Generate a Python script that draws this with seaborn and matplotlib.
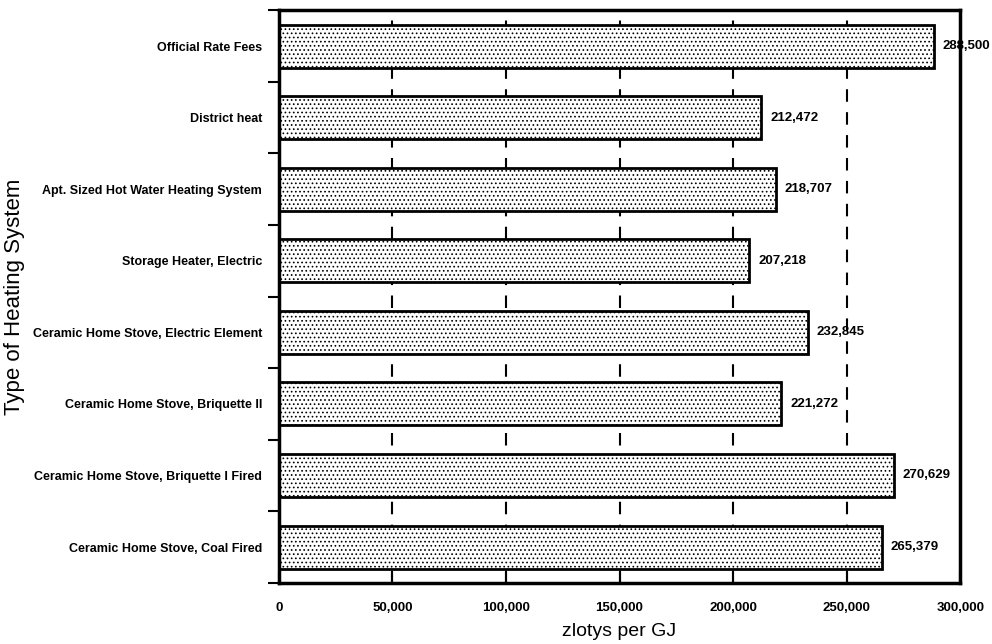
import matplotlib
matplotlib.use("Agg")
import matplotlib.pyplot as plt
import seaborn as sns
import pandas as pd

categories = [
    "Official Rate Fees",
    "District heat",
    "Apt. Sized Hot Water Heating System",
    "Storage Heater, Electric",
    "Ceramic Home Stove, Electric Element",
    "Ceramic Home Stove, Briquette II",
    "Ceramic Home Stove, Briquette I Fired",
    "Ceramic Home Stove, Coal Fired",
]
values = [288500, 212472, 218707, 207218, 232845, 221272, 270629, 265379]
value_labels = ["288,500", "212,472", "218,707", "207,218", "232,845", "221,272", "270,629", "265,379"]
x_ticks = [0, 50000, 100000, 150000, 200000, 250000, 300000]
x_ticklabels = ["0", "50,000", "100,000", "150,000", "200,000", "250,000", "300,000"]

sns.set_style("white")
plt.rcParams["font.family"] = ["Liberation Sans", "DejaVu Sans"]
plt.rcParams["hatch.linewidth"] = 0.7
plt.rcParams["hatch.color"] = "black"
plt.rcParams["text.color"] = "black"
plt.rcParams["axes.labelcolor"] = "black"
plt.rcParams["xtick.color"] = "black"
plt.rcParams["ytick.color"] = "black"

df = pd.DataFrame({"system": categories, "value": values})

fig = plt.figure(figsize=(9.92, 6.44), dpi=100)
ax = fig.add_axes([0.281, 0.095, 0.687, 0.889])

sns.barplot(data=df, y="system", x="value", orient="h", color="white",
            edgecolor="black", linewidth=2, width=0.6, ax=ax, saturation=1)
for p in ax.patches:
    p.set_hatch("....")

ax.set_xlim(0, 300000)
ax.set_ylim(7.5, -0.5)
ax.set_xticks(x_ticks)
ax.set_xticklabels(x_ticklabels, fontsize=9.5, fontweight="bold")
ax.set_yticks(range(len(categories)))
ax.set_yticklabels(categories, fontsize=9, fontweight="bold")
ax.set_yticks([i + 0.5 for i in range(-1, len(categories))], minor=True)
ax.tick_params(axis="y", which="major", length=0, pad=12)
ax.tick_params(axis="y", which="minor", length=8, width=1.5, direction="out", left=True)
ax.tick_params(axis="x", which="major", length=8, width=1.5, direction="in", bottom=True, pad=14)

for xv in x_ticks[1:-1]:
    ax.axvline(xv, color="black", linestyle=(0, (6, 5)), linewidth=1.5, zorder=0)

for i, (v, lab) in enumerate(zip(values, value_labels)):
    ax.text(v + 3800, i, lab, va="center", ha="left", fontsize=9.5, fontweight="bold")

for s in ax.spines.values():
    s.set_linewidth(2.5)
    s.set_color("black")

ax.set_xlabel("zlotys per GJ", fontsize=14)
ax.set_ylabel("Type of Heating System", fontsize=16)
ax.xaxis.set_label_coords(0.5, -0.07)
ax.yaxis.set_label_coords(-0.373, 0.5)

fig.savefig("out.png", dpi=100)
